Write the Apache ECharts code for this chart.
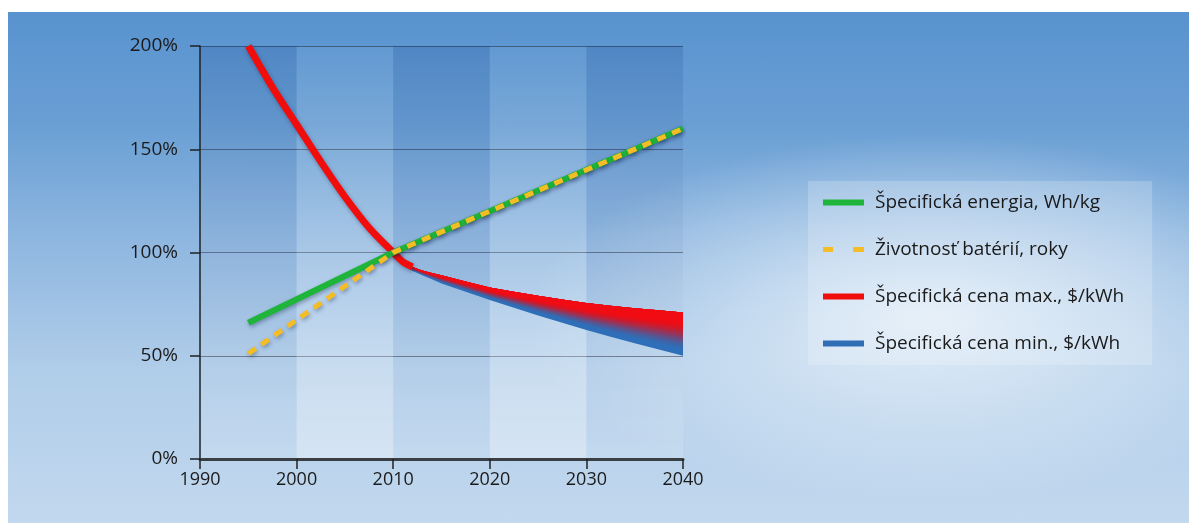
<!DOCTYPE html>
<html>
<head>
<meta charset="utf-8">
<script src="https://cdn.jsdelivr.net/npm/echarts@6/dist/echarts.min.js"></script>
<style>
  html, body { margin: 0; padding: 0; background: #fff; }
  #panel {
    position: absolute; left: 8px; top: 12px; width: 1181px; height: 511px;
    background:
      radial-gradient(ellipse 34% 36% at 78% 60%, rgba(236,244,251,0.85), rgba(236,244,251,0)),
      linear-gradient(to bottom, #5893cf 0%, #6a9fd4 22%, #8fb7e0 45%, #b0cde9 70%, #c2d8ee 100%);
  }
  #main { position: absolute; left: 0; top: 0; width: 1189px; height: 523px; }
</style>
</head>
<body>
<div id="panel"></div>
<div id="main"></div>
<script>
  // roky a hodnoty (v % voci 2010)
  const energyYears = [1995, 2010, 2040];
  const energyVals = [66, 100, 160];
  const lifeYears = [1995, 2010, 2040];
  const lifeVals = [51, 100, 160];

  const costYears = [1995, 1997.5, 2000, 2002.5, 2005, 2007.5, 2010, 2011, 2012, 2013, 2014, 2015, 2017.5, 2020, 2022.5, 2025, 2027.5, 2030, 2032.5, 2035, 2037.5, 2040];
  const costMax = [200, 180, 162, 144, 127, 112, 100, 95.5, 93, 91.3, 90.1, 89, 86, 83, 81, 79, 77.2, 75.5, 74.2, 73, 72, 71];
  const costMin = [null, null, null, null, null, null, 100, 94, 91, 89, 87, 85, 81, 77, 73.2, 69.5, 66, 62.5, 59.2, 56, 53, 50];

  const xTicks = [1990, 2000, 2010, 2020, 2030, 2040];
  const yTicks = [0, 50, 100, 150, 200];

  const names = [
    'Špecifická energia, Wh/kg',
    'Životnosť batérií, roky',
    'Špecifická cena max., $/kWh',
    'Špecifická cena min., $/kWh'
  ];

  const zip = (xs, ys) => xs.map((x, i) => [x, ys[i]]);

  // cervena ciara po koleno krivky
  const redLine = zip(costYears, costMax).filter(p => p[0] <= 2012);

  // pas medzi max a min cenou
  const bandData = costYears
    .map((y, i) => [y, costMin[i], costMax[i]])
    .filter(p => p[1] != null);

  const shadow = { shadowColor: 'rgba(0,20,60,0.35)', shadowBlur: 4, shadowOffsetX: 1, shadowOffsetY: 2 };
  const font = '"Open Sans", "Noto Sans", sans-serif';

  // cely pas sa kresli naraz: modry podklad a cervene vrstvy od horneho okraja,
  // takze prechod farby ide v kazdom bode od max k min
  function renderBand(params, api) {
    if (params.dataIndexInside !== 0) return;
    const n = params.dataInsideLength;
    const top = [], bot = [];
    for (let j = 0; j < n; j++) {
      top.push(api.coord([api.value(0, j), api.value(2, j)]));
      bot.push(api.coord([api.value(0, j), api.value(1, j)]));
    }
    const layer = f => {
      const pts = top.slice();
      for (let j = n - 1; j >= 0; j--) {
        pts.push([top[j][0], top[j][1] + f * (bot[j][1] - top[j][1])]);
      }
      return pts;
    };
    const s = 0.22, e = 0.88, steps = 22;
    const children = [
      { type: 'polygon', shape: { points: layer(1) }, style: { fill: '#2f6fb9' } },
      { type: 'polygon', shape: { points: layer(s) }, style: { fill: '#f00c14' } }
    ];
    // Q = podiel modrej v pasme k (pocitane zhora)
    const Q = k => {
      if (k > steps) return 1;
      const u = (k - 0.5) / steps;
      return u * u * (3 - 2 * u);
    };
    for (let k = steps; k >= 1; k--) {
      const f = s + (e - s) * k / steps;
      const a = 1 - Q(k) / Q(k + 1);
      children.push({
        type: 'polygon', shape: { points: layer(f) },
        style: { fill: 'rgba(240,12,20,' + a.toFixed(4) + ')' }
      });
    }
    return { type: 'group', children: children };
  }

  const chart = echarts.init(document.getElementById('main'), null, { renderer: 'canvas' });
  const option = {
    backgroundColor: 'transparent',
    animation: false,
    textStyle: { fontFamily: font },
    grid: { left: 200, right: 506, top: 46, bottom: 64 },
    legend: {
      orient: 'vertical',
      left: 808, top: 181,
      padding: [12, 28, 12, 15],
      backgroundColor: 'rgba(255,255,255,0.2)',
      itemWidth: 41, itemHeight: 6, itemGap: 28,
      textStyle: { fontSize: 19, color: '#1a1a1a', padding: [0, 0, 0, 6], fontFamily: font },
      data: [
        { name: names[0], icon: 'rect' },
        { name: names[1], icon: 'path://M0,0H10V5H0Z M30,0H41V5H30Z' },
        { name: names[2], icon: 'rect' },
        { name: names[3], icon: 'rect' }
      ],
      selectedMode: false
    },
    xAxis: {
      type: 'value', min: xTicks[0], max: xTicks[xTicks.length - 1], interval: 10,
      axisLine: { lineStyle: { color: '#3a3f46', width: 3 } },
      axisTick: { length: 10, lineStyle: { color: '#222', width: 1.5 } },
      axisLabel: { formatter: v => String(v), fontSize: 18, color: '#1b1b1b', margin: 12 },
      splitLine: { show: false },
      splitArea: {
        show: true,
        areaStyle: {
          color: [
            new echarts.graphic.LinearGradient(0, 0, 0, 1, [
              { offset: 0, color: 'rgba(25,75,150,0.2)' },
              { offset: 1, color: 'rgba(255,255,255,0.14)' }
            ]),
            new echarts.graphic.LinearGradient(0, 0, 0, 1, [
              { offset: 0, color: 'rgba(255,255,255,0.03)' },
              { offset: 1, color: 'rgba(255,255,255,0.4)' }
            ])
          ]
        }
      }
    },
    yAxis: {
      type: 'value', min: yTicks[0], max: yTicks[yTicks.length - 1], interval: 50,
      axisLine: { show: true, lineStyle: { color: '#1e2226', width: 1.5 } },
      axisTick: { show: true, length: 10, lineStyle: { color: '#1e2226', width: 1.5 } },
      axisLabel: { formatter: '{value}%', fontSize: 19, color: '#1b1b1b', margin: 22 },
      splitLine: { lineStyle: { color: 'rgba(35,45,65,0.6)', width: 1 } }
    },
    series: [
      {
        name: names[0], type: 'line', data: zip(energyYears, energyVals),
        symbol: 'none', color: '#1fb53a',
        lineStyle: Object.assign({ width: 6, color: '#1fb53a', cap: 'butt' }, shadow),
        z: 3
      },
      {
        name: names[1], type: 'line', data: zip(lifeYears, lifeVals),
        symbol: 'none', color: '#f5bd25',
        lineStyle: Object.assign({ width: 5, color: '#f5bd25', type: [9, 7] }, shadow),
        z: 4
      },
      {
        name: names[3], type: 'custom', color: '#2f6db5',
        data: bandData,
        encode: { x: 0, y: [1, 2] },
        renderItem: renderBand,
        z: 2
      },
      {
        name: names[2], type: 'line', data: redLine,
        symbol: 'none', smooth: 0.3, color: '#f20d0d',
        lineStyle: Object.assign({ width: 7, color: '#f20d0d', cap: 'butt' }, shadow),
        z: 2
      }
    ]
  };
  option && chart.setOption(option);
</script>
</body>
</html>
